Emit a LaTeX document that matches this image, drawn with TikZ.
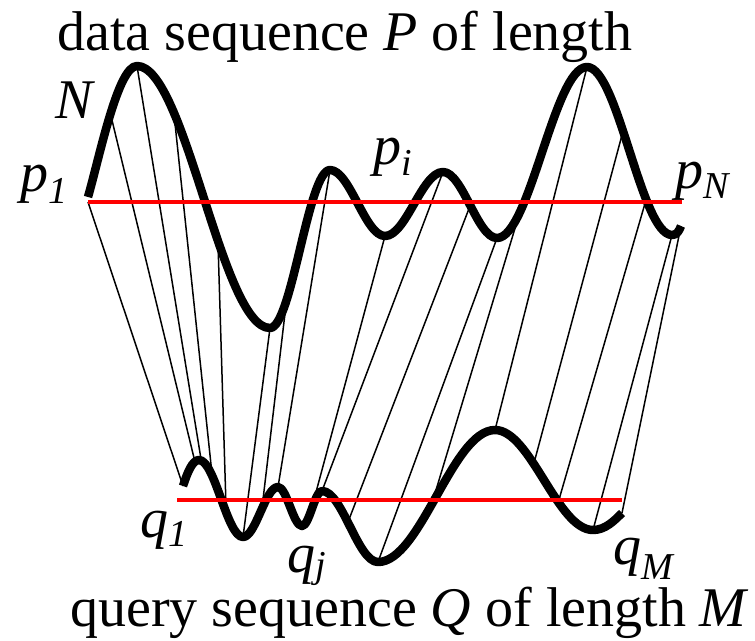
\documentclass[tikz,border=0pt]{standalone}
\usepackage{fontspec}
\setmainfont{Liberation Serif}
\newcommand{\lowsub}[2]{\raisebox{-#1pt}{\fontsize{38}{38}\selectfont\itshape #2}}
\begin{document}
\begin{tikzpicture}[x=1pt,y=-1pt,
  seq/.style={line width=8.5pt, line join=round},
  baseline/.style={draw=red, line width=4pt},
  match/.style={line width=1.5pt},
  lbl/.style={anchor=base west, inner sep=0pt, font=\fontsize{56}{60}\selectfont}]
\useasboundingbox (0,0) rectangle (755,640);

% points on data sequence P
\coordinate (PS) at (88,197);
\coordinate (PA) at (137,66);
\coordinate (PB) at (270,328);
\coordinate (PC) at (330,170);
\coordinate (PD) at (385,236);
\coordinate (PE) at (443,172);
\coordinate (PF) at (497,238);
\coordinate (PG) at (587,67);
\coordinate (PH) at (672,235);
\coordinate (PZ) at (681,226);
% points on query sequence Q
\coordinate (QS) at (183,486);
\coordinate (QA) at (199,460);
\coordinate (QB) at (243,537);
\coordinate (QC) at (278,487);
\coordinate (QD) at (302,526);
\coordinate (QE) at (322,491);
\coordinate (QF) at (378,562);
\coordinate (QG) at (495,430);
\coordinate (QH) at (593,530);
\coordinate (QZ) at (622,513);
% red reference lines
\coordinate (r1) at (88,202);
\coordinate (r2) at (682,202);
\coordinate (s1) at (177,500);
\coordinate (s2) at (622,500);

% match ends on P
\coordinate (t2) at (110,112);
\coordinate (t4) at (174,114);
\coordinate (t5) at (218,243);
\coordinate (t7) at (286,305);
\coordinate (t11) at (470,206);
\coordinate (t13) at (519,215);
\coordinate (t15) at (622,135);
\coordinate (t16) at (646,200);
% match ends on Q
\coordinate (b2) at (195,462);
\coordinate (b3) at (201,459);
\coordinate (b4) at (212,474);
\coordinate (b5) at (226,506);
\coordinate (b7) at (262,508);
\coordinate (b9) at (312,507);
\coordinate (b11) at (348,522);
\coordinate (b13) at (433,500);
\coordinate (b15) at (534,463);
\coordinate (b16) at (558,503);

% matching lines
\draw[match] (r1) -- (QS);
\draw[match] (t2) -- (b2);
\draw[match] (PA) -- (b3);
\draw[match] (t4) -- (b4);
\draw[match] (t5) -- (b5);
\draw[match] (PB) -- (QB);
\draw[match] (t7) -- (b7);
\draw[match] (PC) -- (QC);
\draw[match] (PD) -- (b9);
\draw[match] (PE) -- (QE);
\draw[match] (t11) -- (b11);
\draw[match] (PF) -- (QF);
\draw[match] (t13) -- (b13);
\draw[match] (PG) -- (QG);
\draw[match] (t15) -- (b15);
\draw[match] (t16) -- (b16);
\draw[match] (PH) -- (QH);
\draw[match] (PZ) -- (QZ);

% data sequence P
\draw[seq] (PS) .. controls (100,155) and (118,66) .. (PA)
  .. controls (185.4,66) and (221.6,328) .. (PB)
  .. controls (291.8,328) and (308.2,170) .. (PC)
  .. controls (350,170) and (365,236) .. (PD)
  .. controls (406.1,236) and (421.9,172) .. (PE)
  .. controls (462.7,172) and (477.3,238) .. (PF)
  .. controls (529.8,238) and (554.2,67) .. (PG)
  .. controls (617.9,67) and (641.1,235) .. (PH)
  .. controls (677,235) and (679,231) .. (PZ);

% query sequence Q
\draw[seq] (QS) .. controls (187,474) and (192,460) .. (QA)
  .. controls (215,460) and (227,537) .. (QB)
  .. controls (255.7,537) and (265.3,487) .. (QC)
  .. controls (286.7,487) and (293.3,526) .. (QD)
  .. controls (309.3,526) and (314.7,491) .. (QE)
  .. controls (342.4,491) and (357.6,562) .. (QF)
  .. controls (420.6,562) and (452.4,430) .. (QG)
  .. controls (530.7,430) and (557.3,530) .. (QH)
  .. controls (605,530) and (614,521) .. (QZ);

\draw[baseline] (r1) -- (r2);
\draw[baseline] (s1) -- (s2);

% labels
\node[lbl] (title) at (57,50) {data sequence \textit{P} of length};
\node[lbl] (lN) at (55,118) {\textit{N}};
\node[lbl] (lp1) at (20,191) {\textit{p}\lowsub{12}{1}};
\node[lbl] (lpi) at (373,164) {\textit{p}\lowsub{11}{i}};
\node[lbl] (lpN) at (675,188) {\textit{p}\lowsub{10}{N}};
\node[lbl] (lq1) at (140,537) {\textit{q}\lowsub{9}{1}};
\node[lbl] (lqj) at (287,572) {\textit{q}\lowsub{5}{j}};
\node[lbl] (lqM) at (613,564) {\textit{q}\lowsub{15}{M}};
\node[lbl] (bottom) at (70,626) {query sequence \textit{Q} of length \textit{M}};
\end{tikzpicture}
\end{document}
